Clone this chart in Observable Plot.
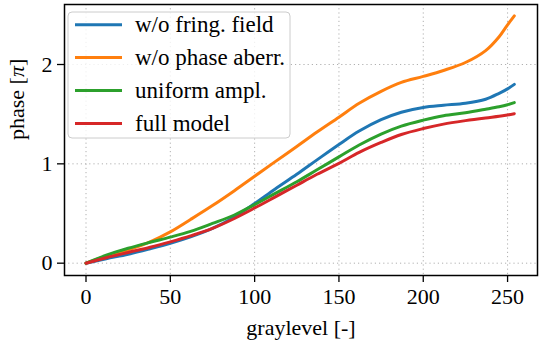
<!DOCTYPE html>
<html>
<head>
<meta charset="utf-8">
<script src="https://cdn.jsdelivr.net/npm/d3@7"></script>
<script src="https://cdn.jsdelivr.net/npm/@observablehq/plot@0.6"></script>
<style>
  html, body { margin: 0; padding: 0; background: white; }
  #chart { width: 544px; height: 344px; }
  #chart svg, #chart svg text { font-family: "Liberation Serif", "DejaVu Serif", serif !important; }
</style>
</head>
<body>
<div id="chart"></div>
<script>
// ---- data ----
const graylevel    = [0, 12, 25, 38, 50, 62, 75, 88, 100, 112, 125, 137, 150, 162, 175, 187, 200, 212, 225, 237, 245, 250, 254];
const seriesNames  = ["w/o fring. field", "w/o phase aberr.", "uniform ampl.", "full model"];
const seriesColors = ["#1f77b4", "#ff7f0e", "#2ca02c", "#d62728"];
const woFringField = [0, 0.045, 0.09, 0.145, 0.20, 0.265, 0.35, 0.465, 0.60, 0.745, 0.895, 1.04, 1.195, 1.33, 1.445, 1.52, 1.568, 1.59, 1.61, 1.65, 1.71, 1.755, 1.80];
const woPhaseAberr = [0, 0.07, 0.135, 0.215, 0.315, 0.44, 0.58, 0.73, 0.875, 1.02, 1.175, 1.32, 1.47, 1.61, 1.73, 1.82, 1.88, 1.94, 2.02, 2.14, 2.28, 2.40, 2.49];
const uniformAmpl  = [0, 0.08, 0.15, 0.21, 0.262, 0.32, 0.40, 0.485, 0.59, 0.70, 0.82, 0.94, 1.07, 1.19, 1.30, 1.38, 1.44, 1.485, 1.515, 1.55, 1.575, 1.595, 1.616];
const fullModel    = [0, 0.055, 0.108, 0.16, 0.215, 0.275, 0.35, 0.45, 0.555, 0.665, 0.785, 0.895, 1.005, 1.115, 1.215, 1.295, 1.355, 1.40, 1.435, 1.462, 1.478, 1.492, 1.505];
const xTicks = [0, 50, 100, 150, 200, 250];
const yTicks = [0, 1, 2];
const xLabel = "graylevel [-]";
const yLabel = "phase [π]";

const allSeries = [woFringField, woPhaseAberr, uniformAmpl, fullModel];
const data = [];
allSeries.forEach((vals, si) => vals.forEach((v, i) => data.push({g: graylevel[i], v, s: seriesNames[si]})));

const FONT = "Liberation Serif, DejaVu Serif, serif";
const FS = 22;

const chart = Plot.plot({
  width: 544,
  height: 344,
  marginLeft: 64,
  marginRight: 7,
  marginTop: 4,
  marginBottom: 69,
  style: {fontFamily: FONT, fontSize: FS + "px", color: "black", background: "white"},
  x: {domain: [-12.75, 267.75]},
  y: {domain: [-0.124, 2.604]},
  color: {domain: seriesNames, range: seriesColors},
  marks: [
    Plot.gridX(xTicks, {stroke: "#b0b0b0", strokeOpacity: 1, strokeWidth: 1, strokeDasharray: "1.2,3"}),
    Plot.gridY(yTicks, {stroke: "#b0b0b0", strokeOpacity: 1, strokeWidth: 1, strokeDasharray: "1.2,3"}),
    Plot.line(data, {x: "g", y: "v", z: "s", stroke: "s", strokeWidth: 3, curve: "catmull-rom"}),
    Plot.frame({stroke: "black", strokeWidth: 1.5}),
    Plot.axisX(xTicks, {tickSize: 7, tickPadding: 6, fontSize: FS, fontFamily: FONT, label: null, tickFormat: d => String(d), stroke: "black", strokeWidth: 1.3}),
    Plot.axisY(yTicks, {tickSize: 7, tickPadding: 5, fontSize: FS, fontFamily: FONT, label: null, tickFormat: d => String(d), stroke: "black", strokeWidth: 1.3}),
    Plot.text([xLabel], {frameAnchor: "bottom", dy: 59, fontSize: FS, fontFamily: FONT, text: d => d}),
    Plot.text([yLabel], {frameAnchor: "left", dx: -48, rotate: -90, fontSize: FS, fontFamily: FONT, text: d => d})
  ]
});
document.getElementById("chart").appendChild(chart);

// italic pi in the y label
d3.select(chart).selectAll("text").each(function() {
  if (this.textContent === yLabel) {
    const t = d3.select(this);
    t.text(null);
    t.append("tspan").text("phase [");
    t.append("tspan").attr("font-style", "italic").text("π");
    t.append("tspan").text("]");
  }
});

// legend
const svg = d3.select(chart);
const lg = svg.append("g").attr("font-family", FONT).attr("font-size", 23).attr("text-anchor", "start");
lg.append("rect").attr("x", 68).attr("y", 12).attr("width", 222).attr("height", 126)
  .attr("rx", 4).attr("fill", "white").attr("fill-opacity", 0.8).attr("stroke", "#cccccc").attr("stroke-width", 1);
seriesNames.forEach((name, i) => {
  const y = 24.7 + i * 32.9;
  lg.append("line").attr("x1", 75).attr("x2", 122).attr("y1", y).attr("y2", y)
    .attr("stroke", seriesColors[i]).attr("stroke-width", 3);
  lg.append("text").attr("x", 135).attr("y", y).attr("dy", "0.33em").attr("fill", "black").text(name);
});
</script>
</body>
</html>
